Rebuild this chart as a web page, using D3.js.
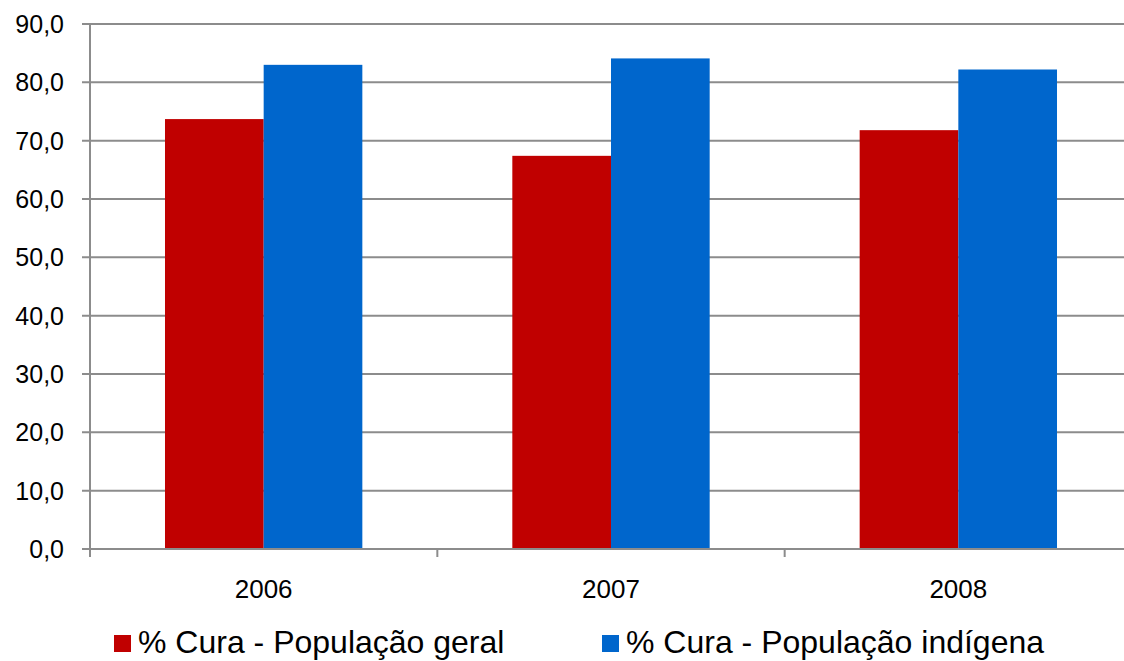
<!DOCTYPE html>
<html><head><meta charset="utf-8">
<script src="https://cdn.jsdelivr.net/npm/d3@7"></script>
<style>html,body{margin:0;padding:0;background:#fff;}svg{display:block;font-family:"Liberation Sans",Arial,sans-serif;}</style>
</head><body>
<svg id="c" width="1124" height="661"></svg>
<script>
const categories = ["2006", "2007", "2008"];
const seriesNames = ["% Cura - População geral", "% Cura - População indígena"];
const geral = [73.7, 67.4, 71.8];
const indigena = [83.0, 84.1, 82.2];
const yTicks = [0, 10, 20, 30, 40, 50, 60, 70, 80, 90];
const colors = ["#C00000", "#0066CC"];

(function(){
const svg = d3.select("#c");
const pL = 90, pR = 1132, pT = 24, pB = 549;
const x = d3.scaleBand().domain(categories).range([pL, pR]).paddingInner(0).paddingOuter(0);
const y = d3.scaleLinear().domain([0, 90]).range([pB, pT]);
const inner = d3.scaleBand().domain([0, 1]).range([0, x.bandwidth()]).paddingInner(0).paddingOuter(0.76);

svg.append("g").selectAll("line").data(yTicks).join("line")
  .attr("x1", pL - 8).attr("x2", pR)
  .attr("y1", d => y(d)).attr("y2", d => y(d))
  .attr("stroke", "#8c8c8c").attr("stroke-width", 2);

svg.append("g").selectAll("text").data(yTicks).join("text")
  .attr("x", 64).attr("y", d => y(d)).attr("dy", "0.36em")
  .attr("text-anchor", "end").attr("font-size", 25).attr("fill", "#000")
  .text(d => d3.format(".1f")(d).replace(".", ","));

const data = [geral, indigena];
data.forEach((vals, si) => {
  svg.append("g").selectAll("rect").data(categories).join("rect")
    .attr("x", (c) => x(c) + inner(si))
    .attr("width", inner.bandwidth())
    .attr("y", (c, i) => y(vals[i]))
    .attr("height", (c, i) => y(0) - y(vals[i]))
    .attr("fill", colors[si]);
});

svg.append("line").attr("x1", pL).attr("x2", pL).attr("y1", pT).attr("y2", pB + 8)
  .attr("stroke", "#8c8c8c").attr("stroke-width", 2);
const bounds = categories.map(c => x(c)).concat([x(categories[categories.length-1]) + x.bandwidth()]);
svg.append("g").selectAll("line").data(bounds).join("line")
  .attr("x1", d => d).attr("x2", d => d).attr("y1", pB).attr("y2", pB + 8)
  .attr("stroke", "#8c8c8c").attr("stroke-width", 2);
svg.append("line").attr("x1", pL).attr("x2", pR).attr("y1", pB).attr("y2", pB)
  .attr("stroke", "#8c8c8c").attr("stroke-width", 2);

svg.append("g").selectAll("text").data(categories).join("text")
  .attr("x", d => x(d) + x.bandwidth() / 2).attr("y", 598)
  .attr("text-anchor", "middle").attr("font-size", 26).attr("fill", "#000")
  .text(d => d);

const legX = [114, 602];
const lg = svg.append("g").selectAll("g").data(seriesNames).join("g")
  .attr("transform", (d, i) => `translate(${legX[i]},0)`);
lg.append("rect").attr("x", 0).attr("y", 635).attr("width", 17).attr("height", 17)
  .attr("fill", (d, i) => colors[i]);
lg.append("text").attr("x", 24).attr("y", 653).attr("font-size", 32).attr("fill", "#000")
  .text(d => d);
})();
</script>
</body></html>
